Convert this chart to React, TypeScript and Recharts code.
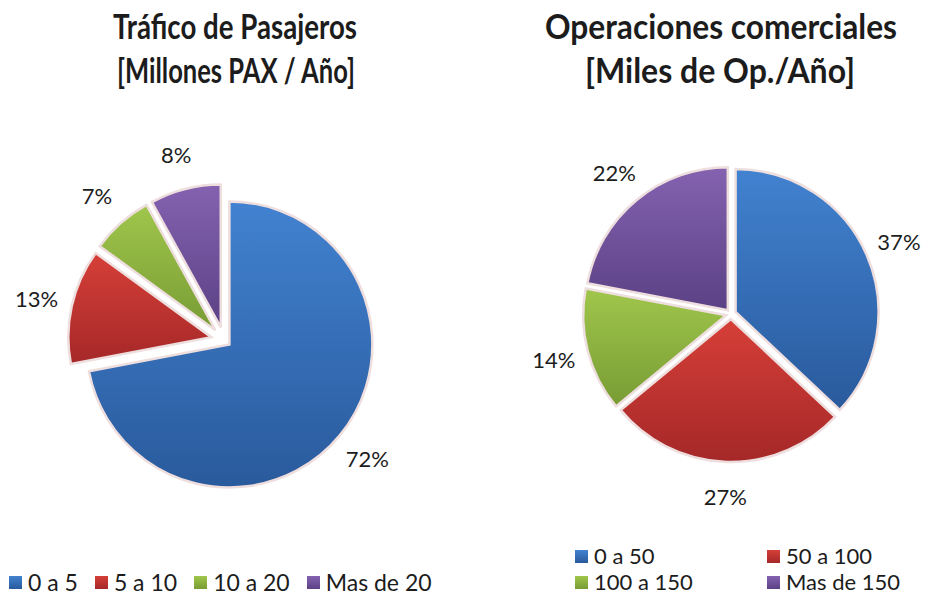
import React from 'react';
import { PieChart, Pie, Cell, Legend } from 'recharts';

// ---------- data ----------
const paxCategories = ['0 a 5', '5 a 10', '10 a 20', 'Mas de 20'];
const paxValues = [72, 13, 7, 8];
const opsCategories = ['0 a 50', '50 a 100', '100 a 150', 'Mas de 150'];
const opsValues = [37, 27, 14, 22];
const paxTitle = ['Tráfico de Pasajeros', '[Millones PAX / Año]'];
const opsTitle = ['Operaciones comerciales', '[Miles de Op./Año]'];

// ---------- styles ----------
const PALETTE = [
  { top: '#4282d0', bottom: '#295a9c' },
  { top: '#d63f38', bottom: '#a52828' },
  { top: '#a0c64c', bottom: '#789c34' },
  { top: '#8462b0', bottom: '#5b4185' },
];
const FONT = 'Lato, "Open Sans", sans-serif';
const TEXT = '#1c1c1c';
const RAD = Math.PI / 180;

function explodeOffsets(values: number[], amounts: number[]) {
  const total = values.reduce((a, b) => a + b, 0);
  let cum = 0;
  return values.map((v, i) => {
    const mid = 90 - (360 * (cum + v / 2)) / total;
    cum += v;
    return { dx: amounts[i] * Math.cos(mid * RAD), dy: -amounts[i] * Math.sin(mid * RAD) };
  });
}

function makeLabel(k: number, gap: number) {
  return (p: any) => {
    if (p.index !== k) return null;
    const rr = p.outerRadius + gap;
    const x = p.cx + rr * Math.cos(-p.midAngle * RAD);
    const y = p.cy + rr * Math.sin(-p.midAngle * RAD);
    return (
      <text x={x} y={y} textAnchor="middle" dominantBaseline="central" fontFamily={FONT} fontSize={22} fill={TEXT}>
        {`${p.value}%`}
      </text>
    );
  };
}

function keyStyle(i: number): React.CSSProperties {
  return {
    display: 'inline-block',
    flex: '0 0 13px',
    width: 13,
    height: 13,
    marginRight: 6,
    background: `linear-gradient(${PALETTE[i].top}, ${PALETTE[i].bottom})`,
  };
}

const PaxLegend = () => (
  <div style={{ display: 'flex', alignItems: 'center', paddingLeft: 9, fontFamily: FONT, fontSize: 23, color: TEXT, lineHeight: '26px', whiteSpace: 'nowrap', width: 463, boxSizing: 'border-box' }}>
    {paxCategories.map((c, i) => (
      <div key={c} style={{ display: 'flex', alignItems: 'center', marginRight: 17, flex: '0 0 auto' }}>
        <span style={keyStyle(i)} />
        <span>{c}</span>
      </div>
    ))}
  </div>
);

const OpsLegend = () => (
  <div style={{ display: 'grid', gridTemplateColumns: '192px 170px', paddingLeft: 112, fontFamily: FONT, fontSize: 22, color: TEXT, lineHeight: '26px', whiteSpace: 'nowrap' }}>
    {opsCategories.map((c, i) => (
      <div key={c} style={{ display: 'flex', alignItems: 'center' }}>
        <span style={keyStyle(i)} />
        <span>{c}</span>
      </div>
    ))}
  </div>
);

type PieProps = {
  categories: string[];
  values: number[];
  cx: number;
  cy: number;
  r: number;
  explode: number[];
  labelGap: number;
  width: number;
  height: number;
  legend: () => React.ReactElement;
  legendTop: number;
};

function ExplodedPie({ categories, values, cx, cy, r, explode, labelGap, width, height, legend, legendTop }: PieProps) {
  const data = categories.map((name, i) => ({ name, value: values[i] }));
  const offs = explodeOffsets(values, explode);
  return (
    <PieChart width={width} height={height} margin={{ top: 0, right: 0, bottom: 0, left: 0 }}>
      {data.map((_, k) => (
        <Pie
          key={k}
          data={data}
          dataKey="value"
          nameKey="name"
          cx={cx + offs[k].dx}
          cy={cy + offs[k].dy}
          innerRadius={0}
          outerRadius={r}
          startAngle={90}
          endAngle={-270}
          isAnimationActive={false}
          labelLine={false}
          label={makeLabel(k, labelGap)}
          legendType="none"
        >
          {data.map((d, i) => (
            <Cell
              key={d.name}
              fill={i === k ? `url(#slice-grad-${i})` : 'transparent'}
              stroke={i === k ? '#eedede' : 'none'}
              strokeWidth={i === k ? 2.5 : 0}
            />
          ))}
        </Pie>
      ))}
      <Legend
        verticalAlign="bottom"
        content={legend}
        wrapperStyle={{ left: 0, top: legendTop, bottom: 'auto', width }}
      />
    </PieChart>
  );
}

export default function App() {
  return (
    <div style={{ position: 'absolute', left: 0, top: 0, width: 927, height: 595, background: '#ffffff', overflow: 'hidden' }}>
      <svg width={0} height={0} style={{ position: 'absolute' }}>
        <defs>
          {PALETTE.map((c, i) => (
            <linearGradient key={i} id={`slice-grad-${i}`} x1="0" y1="0" x2="0" y2="1">
              <stop offset="0%" stopColor={c.top} />
              <stop offset="100%" stopColor={c.bottom} />
            </linearGradient>
          ))}
        </defs>
      </svg>
      <svg width={927} height={100} style={{ position: 'absolute', left: 0, top: 0 }}>
        <g fontFamily={FONT} fontWeight={700} fontSize={34} fill={TEXT} textAnchor="middle">
          <text x={235} y={39} textLength={244} lengthAdjust="spacingAndGlyphs">{paxTitle[0]}</text>
          <text x={236} y={83} textLength={238} lengthAdjust="spacingAndGlyphs">{paxTitle[1]}</text>
          <text x={721} y={39} textLength={352} lengthAdjust="spacingAndGlyphs">{opsTitle[0]}</text>
          <text x={720} y={83} textLength={270} lengthAdjust="spacingAndGlyphs">{opsTitle[1]}</text>
        </g>
      </svg>
      <div style={{ position: 'absolute', left: 0, top: 0 }}>
        <ExplodedPie
          categories={paxCategories}
          values={paxValues}
          cx={224}
          cy={340}
          r={143}
          explode={[7, 13, 13, 13]}
          labelGap={36}
          width={463}
          height={595}
          legend={PaxLegend}
          legendTop={569}
        />
      </div>
      <div style={{ position: 'absolute', left: 463, top: 0 }}>
        <ExplodedPie
          categories={opsCategories}
          values={opsValues}
          cx={268}
          cy={314}
          r={143}
          explode={[5, 5, 5, 5]}
          labelGap={35}
          width={464}
          height={595}
          legend={OpsLegend}
          legendTop={543}
        />
      </div>
    </div>
  );
}
